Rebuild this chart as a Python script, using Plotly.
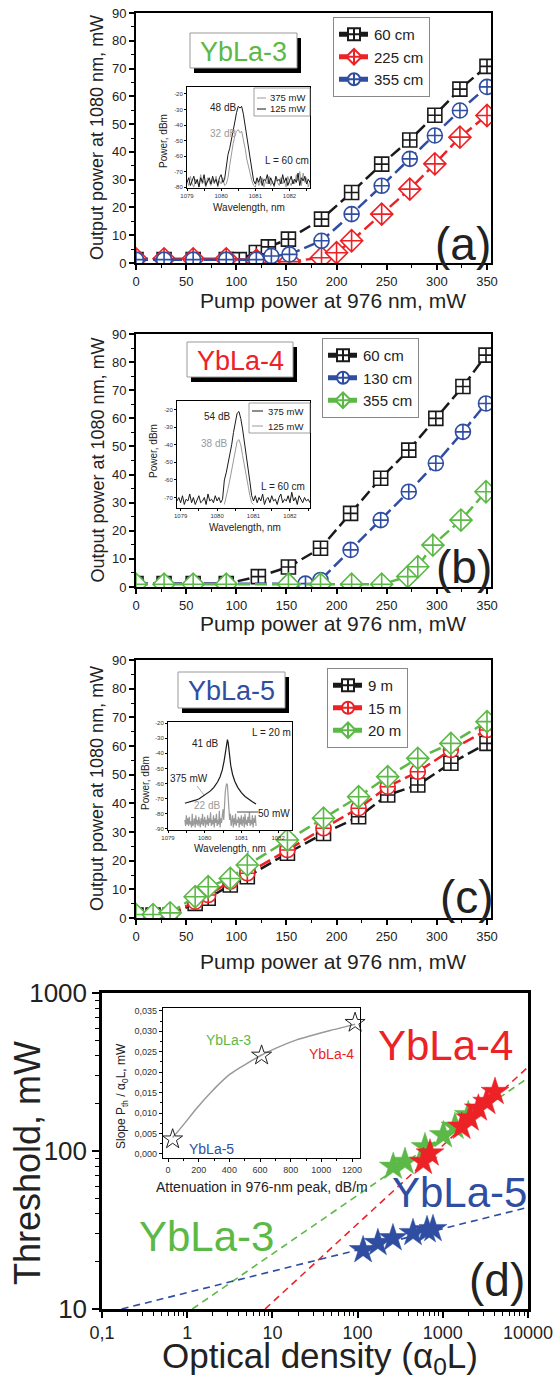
import plotly.graph_objects as go

W, H = 558, 1382
FONT = "Liberation Sans, Arial, Helvetica, sans-serif"

BLACK = "#1a1a1a"
RED = "#ec2227"
BLUE = "#2f4ea2"
GREEN = "#5cb947"
GRAY = "#9a9a9a"

# ---------------- data: panel (a) YbLa-3 ----------------
a_pump_60 = [0, 28, 57, 90, 103, 120, 132, 152, 185, 215, 245, 273, 298, 323, 350]
a_out_60 = [1.2, 1.2, 1.2, 1.2, 1.2, 3.8, 5.8, 8.6, 15.8, 25.4, 35.6, 44.3, 53.2, 62.6, 70.8]
a_pump_225 = [0, 28, 57, 90, 120, 153, 185, 200, 215, 245, 273, 298, 323, 350]
a_out_225 = [1.5, 1.5, 1.5, 1.5, 1.0, 0.5, 1.9, 3.7, 8.0, 17.6, 26.6, 35.7, 45.3, 53.1]
a_pump_355 = [0, 28, 57, 90, 120, 135, 153, 185, 215, 245, 273, 298, 323, 350]
a_out_355 = [1.2, 1.2, 1.2, 1.2, 1.2, 2.5, 3.1, 8.0, 17.6, 27.8, 37.5, 45.9, 54.9, 63.4]

# ---------------- data: panel (b) YbLa-4 ----------------
b_pump_60 = [0, 28, 57, 90, 122, 152, 184, 214, 244, 272, 299, 326, 349]
b_out_60 = [1.2, 1.2, 1.2, 1.2, 3.7, 7.1, 13.8, 26.2, 38.7, 48.7, 60.0, 71.3, 82.5]
b_pump_130 = [0, 28, 57, 90, 152, 169, 184, 214, 244, 272, 299, 326, 349]
b_out_130 = [1.2, 1.2, 1.2, 1.2, 1.2, 1.2, 2.5, 13.2, 23.8, 33.9, 44.0, 55.2, 65.3]
b_pump_355 = [0, 28, 57, 90, 152, 184, 215, 245, 271, 281, 296, 324, 349]
b_out_355 = [1.0, 1.0, 1.0, 1.0, 1.0, 1.0, 1.0, 1.0, 3.7, 7.2, 14.9, 23.8, 33.9]

# ---------------- data: panel (c) YbLa-5 ----------------
c_pump = [0, 17, 34, 59, 72, 94, 111, 151, 187, 222, 251, 281, 314, 350]
c_out_9 = [1.0, 1.0, 1.0, 5.1, 6.9, 11.5, 14.4, 22.6, 29.5, 35.3, 42.9, 46.4, 54.0, 60.9]
c_out_15 = [1.0, 1.0, 1.3, 5.7, 8.0, 12.7, 15.6, 23.7, 31.3, 38.3, 45.8, 51.0, 58.6, 65.6]
c_out_20 = [1.2, 1.2, 1.8, 7.4, 10.9, 13.8, 18.5, 27.2, 34.8, 42.3, 49.3, 55.7, 60.9, 68.5]

# ---------------- inset spectra ----------------
wl_a = [1079.00, 1079.05, 1079.10, 1079.15, 1079.20, 1079.25, 1079.30, 1079.35, 1079.40, 1079.45,
        1079.50, 1079.55, 1079.60, 1079.65, 1079.70, 1079.75, 1079.80, 1079.85, 1079.90, 1079.95,
        1080.00, 1080.05, 1080.10, 1080.15, 1080.20, 1080.25, 1080.30, 1080.35, 1080.40, 1080.45,
        1080.50, 1080.55, 1080.60, 1080.65, 1080.70, 1080.75, 1080.80, 1080.85, 1080.90, 1080.95,
        1081.00, 1081.05, 1081.10, 1081.15, 1081.20, 1081.25, 1081.30, 1081.35, 1081.40, 1081.45,
        1081.50, 1081.55, 1081.60, 1081.65, 1081.70, 1081.75, 1081.80, 1081.85, 1081.90, 1081.95,
        1082.00, 1082.05, 1082.10, 1082.15, 1082.20, 1082.25, 1082.30, 1082.35, 1082.40, 1082.45,
        1082.50, 1082.55, 1082.60]
spec_a_125 = [-77, -74, -79, -76, -73, -78, -75, -80, -74, -77, -72, -79, -76, -74, -78, -73, -77, -75,
              -79, -74, -72, -77, -75,
              -66, -59, -55, -50, -44, -38, -32, -28, -29, -28, -33, -40, -49, -56, -63, -69, -76,
              -78, -74, -77, -73, -79, -75, -76, -72, -78, -74, -77, -79, -73, -76, -75, -78, -72,
              -77, -74, -79, -76, -73, -78, -75, -77, -71, -79, -74, -76, -73, -78, -75, -77]
spec_a_375 = [-76, -79, -73, -78, -80, -75, -77, -79, -72, -78, -76, -80, -74, -77, -79, -75, -78, -73,
              -80, -76, -78, -74, -79,
              -78, -74, -66, -58, -52, -47, -44, -43, -45, -44, -49, -55, -62, -67, -72, -76, -79,
              -80, -75, -79, -77, -74, -80, -76, -78, -73, -79, -76, -80, -75, -77, -79, -74, -78,
              -76, -80, -73, -77, -79, -75, -78, -72, -76, -70, -79, -71, -77, -74, -80, -76]

wl_b = [1078.90, 1078.95,
        1079.00, 1079.05, 1079.10, 1079.15, 1079.20, 1079.25, 1079.30, 1079.35, 1079.40, 1079.45,
        1079.50, 1079.55, 1079.60, 1079.65, 1079.70, 1079.75, 1079.80, 1079.85, 1079.90, 1079.95,
        1080.00, 1080.05, 1080.10, 1080.15, 1080.20, 1080.25, 1080.30, 1080.35, 1080.40, 1080.45,
        1080.50, 1080.55, 1080.60, 1080.65, 1080.70, 1080.75, 1080.80, 1080.85, 1080.90, 1080.95,
        1081.00, 1081.05, 1081.10, 1081.15, 1081.20, 1081.25, 1081.30, 1081.35, 1081.40, 1081.45,
        1081.50, 1081.55, 1081.60, 1081.65, 1081.70, 1081.75, 1081.80, 1081.85, 1081.90, 1081.95,
        1082.00, 1082.05, 1082.10, 1082.15, 1082.20, 1082.25, 1082.30, 1082.35, 1082.40, 1082.45,
        1082.50, 1082.55]
spec_b_375 = [-72, -70, -73, -69, -74, -71, -72, -68, -73, -70, -74, -71, -69, -73, -72, -70, -74, -68,
              -72, -71, -73, -69, -72, -70, -73,
              -71, -60, -56, -51, -46, -40, -33, -27, -22, -21, -25, -31, -38, -46, -53, -61, -69,
              -72, -69, -73, -70, -72, -68, -74, -71, -70, -73, -69, -72, -71, -74, -70, -68, -73,
              -71, -72, -69, -73, -67, -72, -70, -74, -69, -71, -73, -70, -72, -71, -73]
wl_b_125 = [1080.20, 1080.25, 1080.30, 1080.35, 1080.40, 1080.45, 1080.50, 1080.55, 1080.60, 1080.65,
            1080.70, 1080.75, 1080.80, 1080.85, 1080.90, 1080.95, 1081.00]
spec_b_125 = [-74, -70, -65, -60, -55, -49, -43, -38, -37, -40, -46, -52, -58, -64, -69, -73, -74]

wl_c_375 = [1079.46, 1079.55, 1079.65, 1079.75, 1079.85, 1079.95, 1080.05, 1080.15, 1080.25, 1080.35,
            1080.42, 1080.48, 1080.53, 1080.57, 1080.60, 1080.62, 1080.64, 1080.67, 1080.71, 1080.76,
            1080.82, 1080.90, 1081.00, 1081.10, 1081.20, 1081.30, 1081.40]
spec_c_375 = [-73, -72.5, -72, -71, -70, -68.5, -67, -65, -62.5, -59, -55.5, -51, -45, -38, -33, -31,
              -33, -40, -48, -54, -58.5, -62.5, -66, -68.5, -70.5, -72, -73.5]
wl_c_50 = [1079.46, 1079.48, 1079.50, 1079.52, 1079.54, 1079.56, 1079.58, 1079.60, 1079.62, 1079.64,
           1079.66, 1079.68, 1079.70, 1079.72, 1079.74, 1079.76, 1079.78, 1079.80, 1079.82, 1079.84,
           1079.86, 1079.88, 1079.90, 1079.92, 1079.94, 1079.96, 1079.98, 1080.00, 1080.02, 1080.04,
           1080.06, 1080.08, 1080.10, 1080.12, 1080.14, 1080.16, 1080.18, 1080.20, 1080.22, 1080.24,
           1080.26, 1080.28, 1080.30, 1080.32, 1080.34, 1080.36, 1080.38, 1080.40, 1080.42, 1080.44,
           1080.46, 1080.48, 1080.50, 1080.52, 1080.54, 1080.56, 1080.58, 1080.60, 1080.62, 1080.64,
           1080.66, 1080.68, 1080.70, 1080.72, 1080.74, 1080.76, 1080.78, 1080.80, 1080.82, 1080.84,
           1080.86, 1080.88, 1080.90, 1080.92, 1080.94, 1080.96, 1080.98, 1081.00, 1081.02, 1081.04,
           1081.06, 1081.08, 1081.10, 1081.12, 1081.14, 1081.16, 1081.18, 1081.20, 1081.22, 1081.24,
           1081.26, 1081.28, 1081.30, 1081.32, 1081.34, 1081.36, 1081.38, 1081.40]
spec_c_50 = [-84, -88, -81, -87, -83, -88, -82, -87, -85, -89, -80, -88, -86, -83, -89, -81, -87, -84,
             -88, -82, -86, -89, -83, -87, -80, -88, -85, -82, -89, -84, -87, -81, -88, -83, -86, -79,
             -88, -84, -87, -81, -89, -83, -86, -80, -88, -84, -87, -78, -89, -83, -86, -80, -77, -84,
             -72, -66, -62, -60, -61, -67, -75, -84, -80, -88, -85, -81, -89, -83, -87, -80, -88, -84,
             -86, -82, -89, -83, -87, -81, -88, -85, -82, -89, -80, -87, -84, -88, -82, -86, -79, -88,
             -84, -87, -81, -89, -83, -86, -81, -88]

# ---------------- data: panel (d) ----------------
d3_density = [262, 360, 618, 1014, 1390, 1990]
d3_thresh = [79.6, 85.5, 106, 126, 142.6, 169]
d4_density = [590, 708, 1667, 2085, 2612, 3273, 4100]
d4_thresh = [85.5, 96.6, 142.6, 161, 186, 205, 237]
d5_density = [116, 173, 260, 447, 653, 767]
d5_thresh = [23.6, 26.2, 28.1, 30.3, 31.6, 32.1]
fit3_density = [1.15, 10000]
fit3_thresh = [10, 290]
fit4_density = [8.2, 10000]
fit4_thresh = [10, 340]
fit5_density = [0.17, 10000]
fit5_thresh = [10, 44]

ins_att = [30, 610, 1220]
ins_slope = [0.0036, 0.0241, 0.0321]
curve_att = [30, 100, 187, 296, 404, 513, 611, 731, 839, 948, 1057, 1166, 1220]
curve_slope = [0.0040, 0.0071, 0.0112, 0.0157, 0.0195, 0.0221, 0.0242, 0.0263, 0.0279,
               0.0291, 0.0302, 0.0312, 0.0317]

pump_ticks = [0, 50, 100, 150, 200, 250, 300, 350]
out_ticks = [0, 10, 20, 30, 40, 50, 60, 70, 80, 90]


# ---------------- helpers ----------------
def PX(x):
    return x / W


def PY(y):
    return 1 - y / H


def xdom(a, b):
    return [a / W, b / W]


def ydom(t, b):
    return [1 - b / H, 1 - t / H]


fig = go.Figure()


def series(x, y, name, color, symbol, size, xa, ya, legend):
    fig.add_trace(go.Scatter(
        x=x, y=y, name=name, mode="lines+markers", xaxis=xa, yaxis=ya, legend=legend,
        line=dict(color=color, width=2.5, dash="12px,5px"),
        marker=dict(symbol=symbol, size=size, color="white", line=dict(color=color, width=1.6))))


def spec(x, y, color, xa, ya, width=1):
    fig.add_trace(go.Scatter(x=x, y=y, mode="lines", xaxis=xa, yaxis=ya, showlegend=False,
                             line=dict(color=color, width=width), hoverinfo="skip"))


# panel (a)
series(a_pump_60, a_out_60, "60 cm", BLACK, "square-cross", 14, "x", "y", "legend")
series(a_pump_225, a_out_225, "225 cm", RED, "diamond-cross", 17, "x", "y", "legend")
series(a_pump_355, a_out_355, "355 cm", BLUE, "circle-cross", 15, "x", "y", "legend")
spec(wl_a, spec_a_375, GRAY, "x2", "y2")
spec(wl_a, spec_a_125, BLACK, "x2", "y2")

# panel (b)
series(b_pump_60, b_out_60, "60 cm", BLACK, "square-cross", 14, "x3", "y3", "legend2")
series(b_pump_130, b_out_130, "130 cm", BLUE, "circle-cross", 15, "x3", "y3", "legend2")
series(b_pump_355, b_out_355, "355 cm", GREEN, "diamond-cross", 17, "x3", "y3", "legend2")
spec(wl_b, spec_b_375, BLACK, "x4", "y4")
spec(wl_b_125, spec_b_125, GRAY, "x4", "y4")

# panel (c)
series(c_pump, c_out_9, "9 m", BLACK, "square-cross", 14, "x5", "y5", "legend3")
series(c_pump, c_out_15, "15 m", RED, "circle-cross", 15, "x5", "y5", "legend3")
series(c_pump, c_out_20, "20 m", GREEN, "diamond-cross", 17, "x5", "y5", "legend3")
spec(wl_c_50, spec_c_50, GRAY, "x6", "y6", 1.2)
spec(wl_c_375, spec_c_375, BLACK, "x6", "y6", 1.2)

# panel (d)
for fx, fy, col in [(fit3_density, fit3_thresh, GREEN), (fit4_density, fit4_thresh, RED),
                    (fit5_density, fit5_thresh, BLUE)]:
    fig.add_trace(go.Scatter(x=fx, y=fy, mode="lines", xaxis="x7", yaxis="y7", showlegend=False,
                             line=dict(color=col, width=1.6, dash="7px,5px")))
for sx, sy, col in [(d3_density, d3_thresh, GREEN), (d4_density, d4_thresh, RED),
                    (d5_density, d5_thresh, BLUE)]:
    fig.add_trace(go.Scatter(x=sx, y=sy, mode="markers", xaxis="x7", yaxis="y7", showlegend=False,
                             marker=dict(symbol="star", size=21, color=col, line=dict(color=col, width=0.5))))
fig.add_trace(go.Scatter(x=curve_att, y=curve_slope, mode="lines", xaxis="x8", yaxis="y8",
                         showlegend=False, line=dict(color="#999999", width=1.5, shape="spline")))
fig.add_trace(go.Scatter(x=ins_att, y=ins_slope, mode="markers", xaxis="x8", yaxis="y8",
                         showlegend=False, cliponaxis=False,
                         marker=dict(symbol="star-open", size=15, color="#222", line=dict(width=1))))

# ---------------- axes ----------------
tickfont = dict(size=13, color="#222", family=FONT)


def main_x(dom, anchor):
    return dict(domain=dom, anchor=anchor, range=[0, 354], tickvals=pump_ticks, automargin=False,
                showline=True, linecolor="black", linewidth=2, mirror=True,
                ticks="outside", ticklen=5, tickwidth=1.5, tickcolor="black",
                minor=dict(ticks="outside", ticklen=3, tickwidth=1, tickcolor="black", dtick=25, tick0=0),
                showgrid=False, zeroline=False, tickfont=tickfont)


def main_y(dom, anchor):
    return dict(domain=dom, anchor=anchor, range=[0, 90], tickvals=out_ticks, automargin=False,
                showline=True, linecolor="black", linewidth=2, mirror=True,
                ticks="outside", ticklen=5, tickwidth=1.5, tickcolor="black",
                minor=dict(ticks="outside", ticklen=3, tickwidth=1, tickcolor="black", dtick=5, tick0=0),
                showgrid=False, zeroline=False, tickfont=tickfont)


small = dict(size=6, color="#333", family=FONT)


def ins_x(dom, anchor, rng):
    return dict(domain=dom, anchor=anchor, range=rng, tickvals=[1079, 1080, 1081, 1082],
                automargin=False,
                showline=True, linecolor="black", linewidth=1, mirror=True,
                ticks="outside", ticklen=2, tickwidth=0.8, tickcolor="black",
                minor=dict(ticks="outside", ticklen=1.5, tickwidth=0.6, tickcolor="black", dtick=0.5, tick0=1079),
                showgrid=False, zeroline=False, tickfont=small)


def ins_y(dom, anchor, rng, vals):
    return dict(domain=dom, anchor=anchor, range=rng, tickvals=vals, automargin=False,
                ticktext=["-%d" % abs(v) for v in vals],
                showline=True, linecolor="black", linewidth=1, mirror=True,
                ticks="outside", ticklen=2, tickwidth=0.8, tickcolor="black",
                showgrid=False, zeroline=False, tickfont=small)


dec_minor_x = [0.2, 0.3, 0.4, 0.5, 0.6, 0.7, 0.8, 0.9, 2, 3, 4, 5, 6, 7, 8, 9,
               20, 30, 40, 50, 60, 70, 80, 90, 200, 300, 400, 500, 600, 700, 800, 900,
               2000, 3000, 4000, 5000, 6000, 7000, 8000, 9000]
dec_minor_y = [20, 30, 40, 50, 60, 70, 80, 90, 200, 300, 400, 500, 600, 700, 800, 900]

slope_vals = [0, 0.005, 0.01, 0.015, 0.02, 0.025, 0.03, 0.035]

fig.update_layout(
    xaxis=main_x(xdom(136, 491), "y"),
    yaxis=main_y(ydom(13, 263), "x"),
    xaxis2=ins_x(xdom(187, 310), "y2", [1079.0, 1082.6]),
    yaxis2=ins_y(ydom(87, 188), "x2", [-80.6, -15.5], [-20, -30, -40, -50, -60, -70, -80]),
    xaxis3=main_x(xdom(136, 491), "y3"),
    yaxis3=main_y(ydom(334, 587), "x3"),
    xaxis4=ins_x(xdom(177, 310), "y4", [1078.9, 1082.55]),
    yaxis4=ins_y(ydom(401, 508), "x4", [-76, -15], [-20, -30, -40, -50, -60, -70]),
    xaxis5=main_x(xdom(136, 491), "y5"),
    yaxis5=main_y(ydom(660, 918), "x5"),
    xaxis6=ins_x(xdom(168, 292), "y6", [1079.0, 1082.38]),
    yaxis6=ins_y(ydom(722, 830), "x6", [-90.7, -19.3], [-20, -30, -40, -50, -60, -70, -80, -90]),
    xaxis7=dict(domain=xdom(102, 528), anchor="y7", type="log", range=[-1, 4], automargin=False,
                tickvals=[0.1, 1, 10, 100, 1000, 10000],
                ticktext=["0,1", "1", "10", "100", "1000", "10000"],
                showline=True, linecolor="black", linewidth=2.5, mirror=True,
                ticks="outside", ticklen=6, tickwidth=1.5, tickcolor="black",
                minor=dict(ticks="outside", ticklen=4, tickwidth=1, tickcolor="black", tickvals=dec_minor_x),
                showgrid=False, zeroline=False, tickfont=dict(size=18, color="#222", family=FONT)),
    yaxis7=dict(domain=ydom(993, 1309), anchor="x7", type="log", range=[1, 3], automargin=False,
                tickvals=[10, 100, 1000], ticktext=["10", "100", "1000"],
                showline=True, linecolor="black", linewidth=2.5, mirror=True,
                ticks="outside", ticklen=7, tickwidth=1.5, tickcolor="black",
                minor=dict(ticks="outside", ticklen=4, tickwidth=1, tickcolor="black", tickvals=dec_minor_y),
                showgrid=False, zeroline=False, tickfont=dict(size=26, color="#222", family=FONT)),
    xaxis8=dict(domain=xdom(163, 360), anchor="y8", range=[-33, 1252], automargin=False,
                tickvals=[0, 200, 400, 600, 800, 1000, 1200],
                showline=True, linecolor="black", linewidth=1.2, mirror=True,
                ticks="outside", ticklen=3, tickwidth=1, tickcolor="black",
                minor=dict(ticks="outside", ticklen=2, tickwidth=0.8, tickcolor="black", dtick=100, tick0=0),
                showgrid=False, zeroline=False, tickfont=dict(size=9, color="#333", family=FONT)),
    yaxis8=dict(domain=ydom(1008, 1158), anchor="x8", range=[-0.001, 0.0357], automargin=False,
                tickvals=slope_vals, ticktext=[("%.3f" % v).replace(".", ",") for v in slope_vals],
                showline=True, linecolor="black", linewidth=1.2, mirror=True,
                ticks="outside", ticklen=3, tickwidth=1, tickcolor="black",
                minor=dict(ticks="outside", ticklen=2, tickwidth=0.8, tickcolor="black", dtick=0.0025, tick0=0),
                showgrid=False, zeroline=False, tickfont=dict(size=9, color="#333", family=FONT)),
)

leg_common = dict(xref="paper", yref="paper", xanchor="left", yanchor="top",
                  bgcolor="white", bordercolor="#888", borderwidth=1, itemsizing="constant",
                  font=dict(size=15, color="#222", family=FONT), tracegroupgap=0, itemwidth=30)
fig.update_layout(
    legend=dict(x=PX(333), y=PY(17), **leg_common),
    legend2=dict(x=PX(322), y=PY(338), **leg_common),
    legend3=dict(x=PX(327), y=PY(668), **leg_common),
)

# ---------------- text ----------------
annotations = []
shapes = []


def ann(text, x, y, size, color="#222", angle=0, xanchor="center"):
    annotations.append(dict(text=text, x=PX(x), y=PY(y), xref="paper", yref="paper",
                            showarrow=False, textangle=angle, xanchor=xanchor, yanchor="middle",
                            font=dict(size=size, color=color, family=FONT)))


def hline(x0, x1, y, color, width=1):
    shapes.append(dict(type="line", xref="paper", yref="paper", x0=PX(x0), x1=PX(x1),
                       y0=PY(y), y1=PY(y), line=dict(color=color, width=width)))


def label_box(x0, y0, x1, y1, text, color):
    shapes.append(dict(type="rect", xref="paper", yref="paper", x0=PX(x0 + 4), x1=PX(x1 + 4),
                       y0=PY(y0 + 5), y1=PY(y1 + 5), fillcolor="black", line=dict(width=0)))
    shapes.append(dict(type="rect", xref="paper", yref="paper", x0=PX(x0), x1=PX(x1),
                       y0=PY(y0), y1=PY(y1), fillcolor="white", line=dict(color="#999", width=1)))
    ann(text, (x0 + x1) / 2, (y0 + y1) / 2 + 1, 27, color)


for ytop, ybot, ytitle in [(13, 263, 300), (334, 587, 623), (660, 918, 961)]:
    ann("Output power at 1080 nm, mW", 97, (ytop + ybot) / 2, 18, angle=-90)
    ann("Pump power at 976 nm, mW", 333, ytitle, 21)

label_box(190, 33, 297, 68, "YbLa-3", GREEN)
label_box(187, 342, 293, 377, "YbLa-4", RED)
label_box(178, 672, 285, 708, "YbLa-5", BLUE)

ann("(a)", 463, 244, 46)
ann("(b)", 464, 567, 46)
ann("(c)", 467, 897, 46)
ann("(d)", 497, 1280, 46)

# inset (a)
ann("Power, dBm", 163, 141, 10, angle=-90)
ann("Wavelength, nm", 249, 207, 10)
ann("48 dB", 223, 107, 10)
ann("32 dB", 223, 133, 10, color=GRAY)
ann("L = 60 cm", 287, 160, 10)
shapes.append(dict(type="rect", xref="paper", yref="paper", x0=PX(254), x1=PX(310), y0=PY(88),
                   y1=PY(116), fillcolor="white", line=dict(color="#888", width=0.8)))
hline(257, 266, 98, GRAY)
hline(257, 266, 109, BLACK)
ann("375 mW", 268, 98, 9.5, xanchor="left")
ann("125 mW", 268, 109, 9.5, xanchor="left")

# inset (b)
ann("Power, dBm", 153, 451, 10, angle=-90)
ann("Wavelength, nm", 245, 527, 10)
ann("54 dB", 217, 416, 10)
ann("38 dB", 214, 443, 10, color=GRAY)
ann("L = 60 cm", 283, 487, 10)
shapes.append(dict(type="rect", xref="paper", yref="paper", x0=PX(249), x1=PX(310), y0=PY(403),
                   y1=PY(433), fillcolor="white", line=dict(color="#888", width=0.8)))
hline(252, 263, 411, BLACK)
hline(252, 263, 426, GRAY)
ann("375 mW", 266, 411, 9.5, xanchor="left")
ann("125 mW", 266, 426, 9.5, xanchor="left")

# inset (c)
ann("Power, dBm", 145, 783, 10, angle=-90)
ann("Wavelength, nm", 230, 848, 10)
ann("41 dB", 205, 743, 10)
ann("375 mW", 189, 778, 10)
ann("22 dB", 207, 805, 10, color=GRAY)
ann("50 mW", 274, 813, 10)
ann("L = 20 m", 271, 732, 10)
shapes.append(dict(type="line", xref="paper", yref="paper", x0=PX(197), x1=PX(204),
                   y0=PY(786), y1=PY(795), line=dict(color=GRAY, width=0.8)))
hline(237, 258, 812, BLACK, 0.8)

# panel (d)
ann("Threshold, mW", 27, 1163, 36, angle=-90)
ann("Optical density (α<sub>0</sub>L)", 320, 1358, 35)
ann("YbLa-4", 445, 1045, 42, RED)
ann("YbLa-5", 459, 1192, 42, BLUE)
ann("YbLa-3", 206, 1236, 42, GREEN)
ann("Slope P<sub>th</sub> / α<sub>0</sub>L, mW", 122, 1096, 12, angle=-90)
ann("Attenuation in 976-nm peak, dB/m", 262, 1187, 14)
ann("YbLa-3", 228, 1040, 14, GREEN)
ann("YbLa-4", 331, 1054, 14, RED)
ann("YbLa-5", 211, 1149, 14, BLUE)

fig.update_layout(
    width=W, height=H, margin=dict(l=0, r=0, t=0, b=0, autoexpand=False),
    paper_bgcolor="white", plot_bgcolor="white",
    font=dict(family=FONT, color="#222"),
    annotations=annotations, shapes=shapes,
)

fig.write_html("out.html", config={"displayModeBar": False},
               post_script="document.body.style.margin='0px';document.body.style.padding='0px';")
